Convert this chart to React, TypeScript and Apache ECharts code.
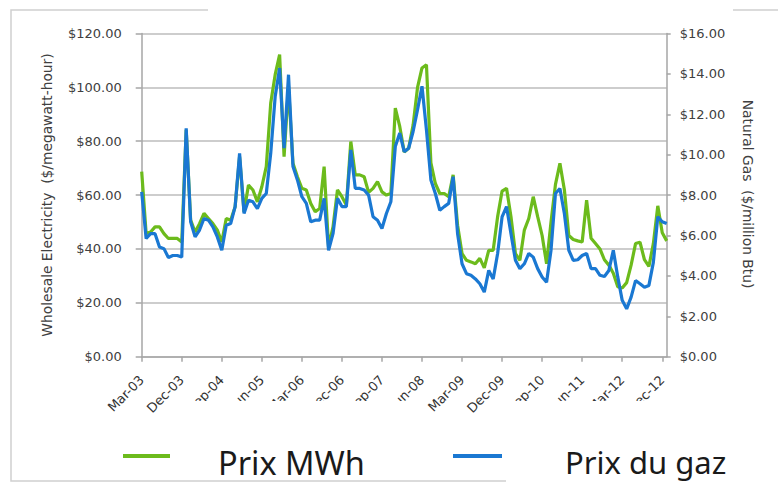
import React, { useEffect, useRef } from "react";
import * as echarts from "echarts";

const MONTH_NAMES = ["Jan", "Feb", "Mar", "Apr", "May", "Jun", "Jul", "Aug", "Sep", "Oct", "Nov", "Dec"];
const START_YEAR = 2003;
const START_MONTH = 2; // March
const MONTH_COUNT = 119; // Mar-03 .. Jan-13

const categories: string[] = [];
for (let k = 0; k < MONTH_COUNT; k++) {
  const m = (START_MONTH + k) % 12;
  const y = START_YEAR + Math.floor((START_MONTH + k) / 12);
  categories.push(MONTH_NAMES[m] + "-" + String(y % 100).padStart(2, "0"));
}

// Wholesale electricity, $/MWh (left axis)
const electricity = [
  68.7, 45.7, 46.3, 48.2, 48.2, 45.7, 43.9, 43.9, 43.9, 42.6,
  84.2, 50.7, 46.3, 49.4, 53.2, 51.3, 49.4, 47.0, 42.6, 51.3,
  50.7, 55.7, 74.3, 53.8, 63.7, 61.9, 57.5, 63.1, 70.6, 94.2,
  104.7, 112.2, 74.3, 100.4, 71.8, 66.8, 62.5, 61.9, 56.9, 53.8,
  55.0, 70.6, 40.7, 48.2, 61.9, 59.4, 56.3, 79.9, 67.5, 67.5,
  66.8, 61.0, 62.5, 65.0, 61.2, 60.0, 60.6, 92.3, 85.5, 76.0,
  77.4, 86.0, 100.0, 107.2, 108.4, 72.0, 64.3, 60.6, 60.6, 59.4,
  67.5, 48.8, 38.3, 35.8, 35.2, 34.5, 36.5, 33.0, 39.5, 39.5,
  52.0, 61.5, 62.5, 52.0, 38.3, 35.8, 47.0, 51.3, 59.4, 52.0,
  45.0, 34.5, 50.0, 64.0, 71.8, 62.0, 45.0, 43.5, 43.0, 42.6,
  58.1, 44.0, 42.0, 40.0, 36.0, 34.0, 31.0, 26.0, 25.5, 27.5,
  34.0, 42.0, 42.5, 36.0, 33.5, 42.0, 56.0, 46.0, 43.0,
];

// Natural gas, $/million Btu (right axis)
const gas = [
  8.16, 5.85, 6.09, 6.09, 5.43, 5.35, 4.91, 5.01, 5.01, 4.93,
  11.31, 6.68, 5.93, 6.27, 6.84, 6.76, 6.43, 5.93, 5.27, 6.51,
  6.59, 7.43, 10.07, 7.09, 7.75, 7.67, 7.33, 7.84, 8.08, 10.07,
  12.88, 14.29, 10.32, 13.96, 9.41, 8.75, 7.92, 7.59, 6.68, 6.76,
  6.76, 7.84, 5.27, 6.09, 7.84, 7.43, 7.43, 10.24, 8.33, 8.33,
  8.25, 8.0, 6.93, 6.76, 6.35, 7.09, 7.67, 10.4, 11.07, 10.15,
  10.32, 11.15, 12.23, 13.39, 11.23, 8.75, 8.08, 7.25, 7.43, 7.59,
  8.91, 6.09, 4.6, 4.11, 4.03, 3.85, 3.61, 3.2, 4.27, 3.85,
  5.11, 6.92, 7.43, 6.09, 4.77, 4.36, 4.6, 5.11, 4.93, 4.36,
  3.95, 3.69, 5.27, 8.08, 8.33, 7.09, 5.27, 4.77, 4.8, 5.01,
  5.11, 4.36, 4.36, 4.03, 3.97, 4.27, 5.27, 3.95, 2.79, 2.37,
  2.95, 3.77, 3.61, 3.44, 3.53, 4.67, 6.93, 6.68, 6.59,
];

const LEFT_MIN = 0;
const LEFT_MAX = 120;
const LEFT_STEP = 20;
const RIGHT_MIN = 0;
const RIGHT_MAX = 16;
const RIGHT_STEP = 2;

const SERIES_NAMES = ["Prix MWh", "Prix du gaz"];
const LEFT_TITLE = "Wholesale Electricity  ($/megawatt-hour)";
const RIGHT_TITLE = "Natural Gas  ($/million Btu)";

const GREEN = "#6cbb1c";
const BLUE = "#1a78d2";

export default function App() {
  const ref = useRef<HTMLDivElement>(null);

  useEffect(() => {
    document.body.style.margin = "0";
    if (!ref.current) return;
    const chart = echarts.init(ref.current, undefined, { renderer: "svg" });
    const tickFont = { fontFamily: "DejaVu Sans", fontSize: 13, color: "#404040" };
    const money = (v: number) => "$" + v.toFixed(2);

    chart.setOption({
      animation: false,
      backgroundColor: "#ffffff",
      grid: { left: 141.7, right: 111.3, top: 33.5, bottom: 127.3, containLabel: false },
      xAxis: {
        type: "category",
        data: categories,
        boundaryGap: false,
        axisLine: { lineStyle: { color: "#a6a6a6", width: 1.5 } },
        axisTick: { show: true, interval: 8, length: 5, lineStyle: { color: "#a6a6a6", width: 1.5 } },
        axisLabel: { ...tickFont, color: "#333333", interval: 8, rotate: 45, margin: 21 },
        splitLine: { show: false },
      },
      yAxis: [
        {
          type: "value",
          min: LEFT_MIN,
          max: LEFT_MAX,
          interval: LEFT_STEP,
          position: "left",
          axisLine: { show: true, lineStyle: { color: "#a6a6a6", width: 1.5 } },
          axisTick: { show: true, length: 6, lineStyle: { color: "#a6a6a6", width: 1.5 } },
          axisLabel: { ...tickFont, margin: 20, formatter: money },
          splitLine: { show: true, lineStyle: { color: "#bdbdbd", width: 1.5 } },
        },
        {
          type: "value",
          min: RIGHT_MIN,
          max: RIGHT_MAX,
          interval: RIGHT_STEP,
          position: "right",
          axisLine: { show: true, lineStyle: { color: "#a6a6a6", width: 1.5 } },
          axisTick: { show: true, length: 4, lineStyle: { color: "#a6a6a6", width: 1.5 } },
          axisLabel: { ...tickFont, margin: 13, formatter: money },
          splitLine: { show: false },
        },
      ],
      series: [
        {
          name: SERIES_NAMES[0],
          type: "line",
          yAxisIndex: 0,
          data: electricity,
          showSymbol: false,
          lineStyle: { color: GREEN, width: 3.2 },
          itemStyle: { color: GREEN },
          z: 2,
        },
        {
          name: SERIES_NAMES[1],
          type: "line",
          yAxisIndex: 1,
          data: gas,
          showSymbol: false,
          lineStyle: { color: BLUE, width: 3.2 },
          itemStyle: { color: BLUE },
          z: 3,
        },
      ],
      graphic: [
        {
          type: "rect",
          shape: { x: 11, y: 10, width: 820, height: 471 },
          style: { fill: "none", stroke: "#d0d0d0", lineWidth: 1.5 },
          z: 1,
          silent: true,
        },
        {
          type: "text",
          x: 47,
          y: 195,
          rotation: Math.PI / 2,
          style: {
            text: LEFT_TITLE,
            fontFamily: "DejaVu Sans",
            fontSize: 13.8,
            fill: "#404040",
            align: "center",
            verticalAlign: "middle",
          },
          z: 10,
        },
        {
          type: "text",
          x: 748,
          y: 194,
          rotation: -Math.PI / 2,
          style: {
            text: RIGHT_TITLE,
            fontFamily: "DejaVu Sans",
            fontSize: 13.8,
            fill: "#404040",
            align: "center",
            verticalAlign: "middle",
          },
          z: 10,
        },
        {
          type: "rect",
          shape: { x: 208, y: 0, width: 525, height: 16 },
          style: { fill: "#ffffff" },
          z: 100,
        },
        {
          type: "rect",
          shape: { x: 172, y: 401, width: 242, height: 79 },
          style: { fill: "#ffffff" },
          z: 100,
        },
        {
          type: "rect",
          shape: { x: 506, y: 401, width: 272, height: 83 },
          style: { fill: "#ffffff" },
          z: 100,
        },
        {
          type: "line",
          shape: { x1: 123, y1: 456, x2: 170, y2: 456 },
          style: { stroke: GREEN, lineWidth: 4 },
          z: 101,
        },
        {
          type: "line",
          shape: { x1: 453, y1: 456, x2: 502, y2: 456 },
          style: { stroke: BLUE, lineWidth: 4 },
          z: 101,
        },
        {
          type: "text",
          x: 218,
          y: 462,
          style: {
            text: SERIES_NAMES[0],
            fontFamily: "Noto Sans",
            fontSize: 32.5,
            fill: "#1a1a1a",
            align: "left",
            verticalAlign: "middle",
          },
          z: 101,
        },
        {
          type: "text",
          x: 565,
          y: 462,
          style: {
            text: SERIES_NAMES[1],
            fontFamily: "Noto Sans",
            fontSize: 31,
            fill: "#1a1a1a",
            align: "left",
            verticalAlign: "middle",
          },
          z: 101,
        },
      ],
    });

    return () => chart.dispose();
  }, []);

  return (
    <div
      ref={ref}
      style={{ position: "absolute", left: 0, top: 0, width: 778, height: 484 }}
    />
  );
}
